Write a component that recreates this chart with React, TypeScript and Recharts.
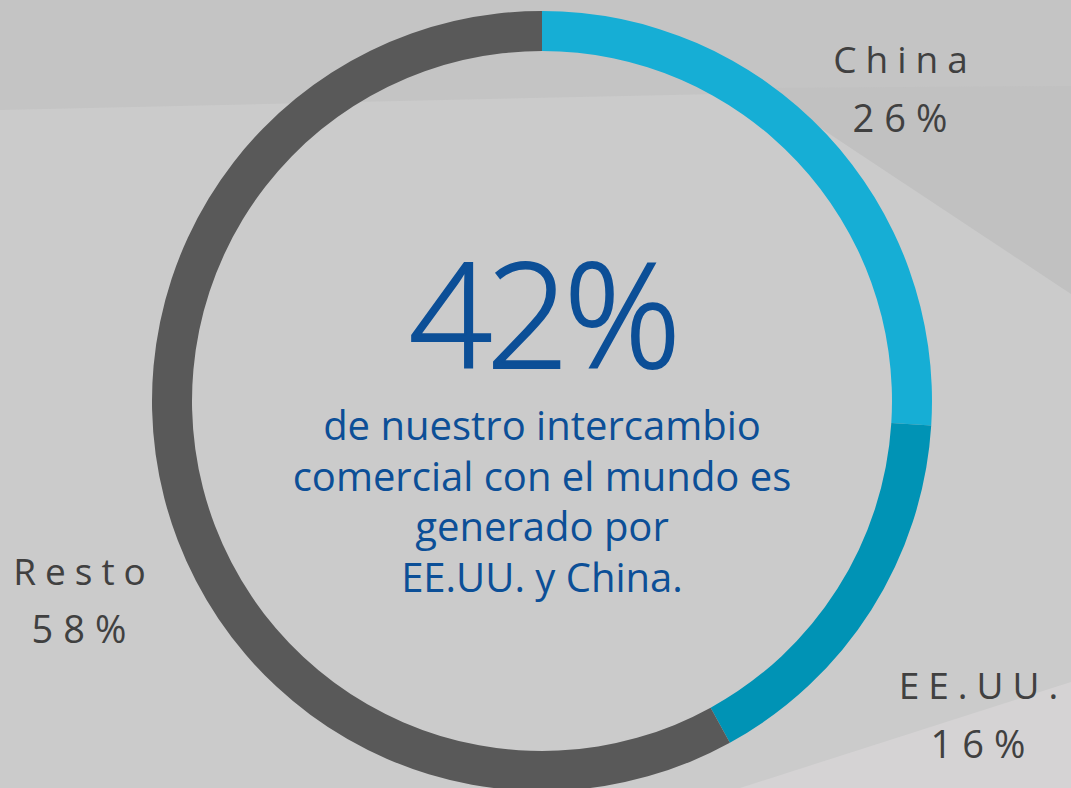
import React from 'react';
import { PieChart, Pie, Cell } from 'recharts';

const regions = ['China', 'EE.UU.', 'Resto'];
const shares = [26, 16, 58];
const shareLabels = ['26%', '16%', '58%'];
const sliceColors = ['#16aed5', '#0093b5', '#595959'];

const headline = '42%';
const captionLines = [
  'de nuestro intercambio',
  'comercial con el mundo es',
  'generado por',
  'EE.UU. y China.',
];

const data = regions.map((name, i) => ({ name, value: shares[i], label: shareLabels[i] }));

// where each callout sits (name baseline, share baseline)
const labelLayout = [
  { x: 905, y1: 73, y2: 132 },
  { x: 983, y1: 699, y2: 758 },
  { x: 84, y1: 585, y2: 643 },
];

const W = 1071;
const H = 788;
const CX = 542;
const CY = 401;

const labelFont = '"Open Sans", "Liberation Sans", sans-serif';
const blue = '#0c4f97';

function Background() {
  return (
    <svg width={W} height={H} style={{ position: 'absolute', left: 0, top: 0 }}>
      <rect x={0} y={0} width={W} height={H} fill="#cbcbcb" />
      <polygon points={`0,0 ${W},0 ${W},86 0,110`} fill="#c4c4c4" />
      <polygon points={`760,88 ${W},86 ${W},294`} fill="#c1c1c1" />
      <polygon points={`740,${H} ${W},682 ${W},${H}`} fill="#d5d3d4" />
    </svg>
  );
}

function renderLabel(props: any) {
  const { index, name, payload } = props;
  const pos = labelLayout[index];
  return (
    <g key={`lbl-${index}`}>
      <text
        x={pos.x}
        y={pos.y1}
        textAnchor="middle"
        fill="#404040"
        fontFamily={labelFont}
        fontSize={37}
        letterSpacing={9}
      >
        {name}
      </text>
      <text
        x={pos.x}
        y={pos.y2}
        textAnchor="middle"
        fill="#404040"
        fontFamily={labelFont}
        fontSize={38}
        letterSpacing={10}
      >
        {payload.label}
      </text>
    </g>
  );
}

export default function App() {
  return (
    <div style={{ position: 'absolute', left: 0, top: 0, width: W, height: H, overflow: 'hidden' }}>
      <Background />
      <div style={{ position: 'absolute', left: 0, top: 0 }}>
        <PieChart width={W} height={H} margin={{ top: 0, right: 0, bottom: 0, left: 0 }}>
          <Pie
            data={data}
            dataKey="value"
            nameKey="name"
            cx={CX}
            cy={CY}
            innerRadius={350}
            outerRadius={390}
            startAngle={90}
            endAngle={-270}
            stroke="none"
            label={renderLabel}
            labelLine={false}
            isAnimationActive={false}
          >
            {data.map((d, i) => (
              <Cell key={d.name} fill={sliceColors[i]} />
            ))}
          </Pie>
          <text
            x={CX}
            y={368}
            textAnchor="middle"
            fill={blue}
            fontFamily={labelFont}
            fontWeight={300}
            fontSize={146}
            letterSpacing={-6}
            stroke={blue}
            strokeWidth={2}
          >
            {headline}
          </text>
          {captionLines.map((line, i) => (
            <text
              key={line}
              x={CX}
              y={440 + i * 50.5}
              textAnchor="middle"
              fill={blue}
              fontFamily={labelFont}
              fontSize={40}
            >
              {line}
            </text>
          ))}
        </PieChart>
      </div>
    </div>
  );
}
